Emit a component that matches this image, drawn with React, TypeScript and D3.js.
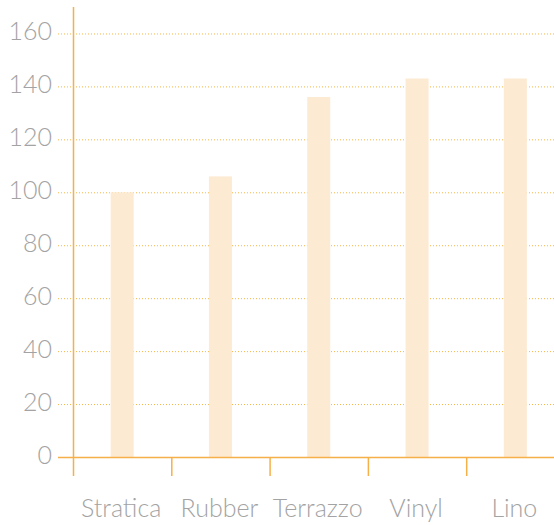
import { useMemo } from "react";
import * as d3 from "d3";

const WIDTH = 554;
const HEIGHT = 525;
const MARGIN = { top: 7, left: 73, bottom: 68 };

const categories = ["Stratica", "Rubber", "Terrazzo", "Vinyl", "Lino"];
const values = [100, 106, 136, 143, 143];
const yTicks = [0, 20, 40, 60, 80, 100, 120, 140, 160];

const AXIS_COLOR = "#f6b04a";
const GRID_COLOR = "#f8b545";
const BAR_COLOR = "#fdead2";
const LABEL_COLOR = "#a3a3a3";
const FONT = "Lato, 'Open Sans', sans-serif";

export default function App() {
  const y0 = HEIGHT - MARGIN.bottom;

  // scales: band spills past the right edge, like the original
  const { xScale, yScale } = useMemo(() => {
    const xScale = d3
      .scaleBand<string>()
      .domain(categories)
      .range([MARGIN.left, MARGIN.left + 98.3 * categories.length])
      .padding(0);
    const yScale = d3.scaleLinear().domain([0, 170]).range([y0, MARGIN.top]);
    return { xScale, yScale };
  }, [y0]);

  const step = xScale.bandwidth();
  const barW = 23;

  return (
    <svg
      width={WIDTH}
      height={HEIGHT}
      style={{ position: "fixed", left: 0, top: 0, background: "#fff" }}
    >
      {/* gridlines */}
      {yTicks.map((t) => (
        <line
          key={"g" + t}
          x1={58}
          x2={WIDTH}
          y1={yScale(t) + 0.5}
          y2={yScale(t) + 0.5}
          stroke={GRID_COLOR}
          strokeWidth={1}
          strokeDasharray="1,2"
        />
      ))}

      {/* bars */}
      {categories.map((c, i) => (
        <rect
          key={c}
          x={(xScale(c) as number) + step / 2 - barW / 2}
          y={yScale(values[i])}
          width={barW}
          height={y0 - yScale(values[i])}
          fill={BAR_COLOR}
        />
      ))}

      {/* y labels */}
      {yTicks.map((t) => (
        <text
          key={"l" + t}
          x={52}
          y={yScale(t) + 6.5}
          textAnchor="end"
          fontFamily={FONT}
          fontWeight={300}
          fontSize={25}
          fill={LABEL_COLOR}
        >
          {t}
        </text>
      ))}

      {/* axes */}
      <line x1={MARGIN.left + 0.5} x2={MARGIN.left + 0.5} y1={MARGIN.top} y2={476} stroke={AXIS_COLOR} strokeWidth={1.5} />
      <line x1={58} x2={WIDTH} y1={y0 + 0.5} y2={y0 + 0.5} stroke={AXIS_COLOR} strokeWidth={1.5} />
      {categories.slice(1).map((c) => (
        <line
          key={"t" + c}
          x1={(xScale(c) as number) + 0.5}
          x2={(xScale(c) as number) + 0.5}
          y1={y0}
          y2={476}
          stroke={AXIS_COLOR}
          strokeWidth={1.5}
        />
      ))}

      {/* x labels */}
      {categories.map((c) => (
        <text
          key={"x" + c}
          x={(xScale(c) as number) + step / 2 - 1}
          y={517}
          textAnchor="middle"
          fontFamily={FONT}
          fontWeight={300}
          fontSize={25}
          fill={LABEL_COLOR}
        >
          {c}
        </text>
      ))}
    </svg>
  );
}
